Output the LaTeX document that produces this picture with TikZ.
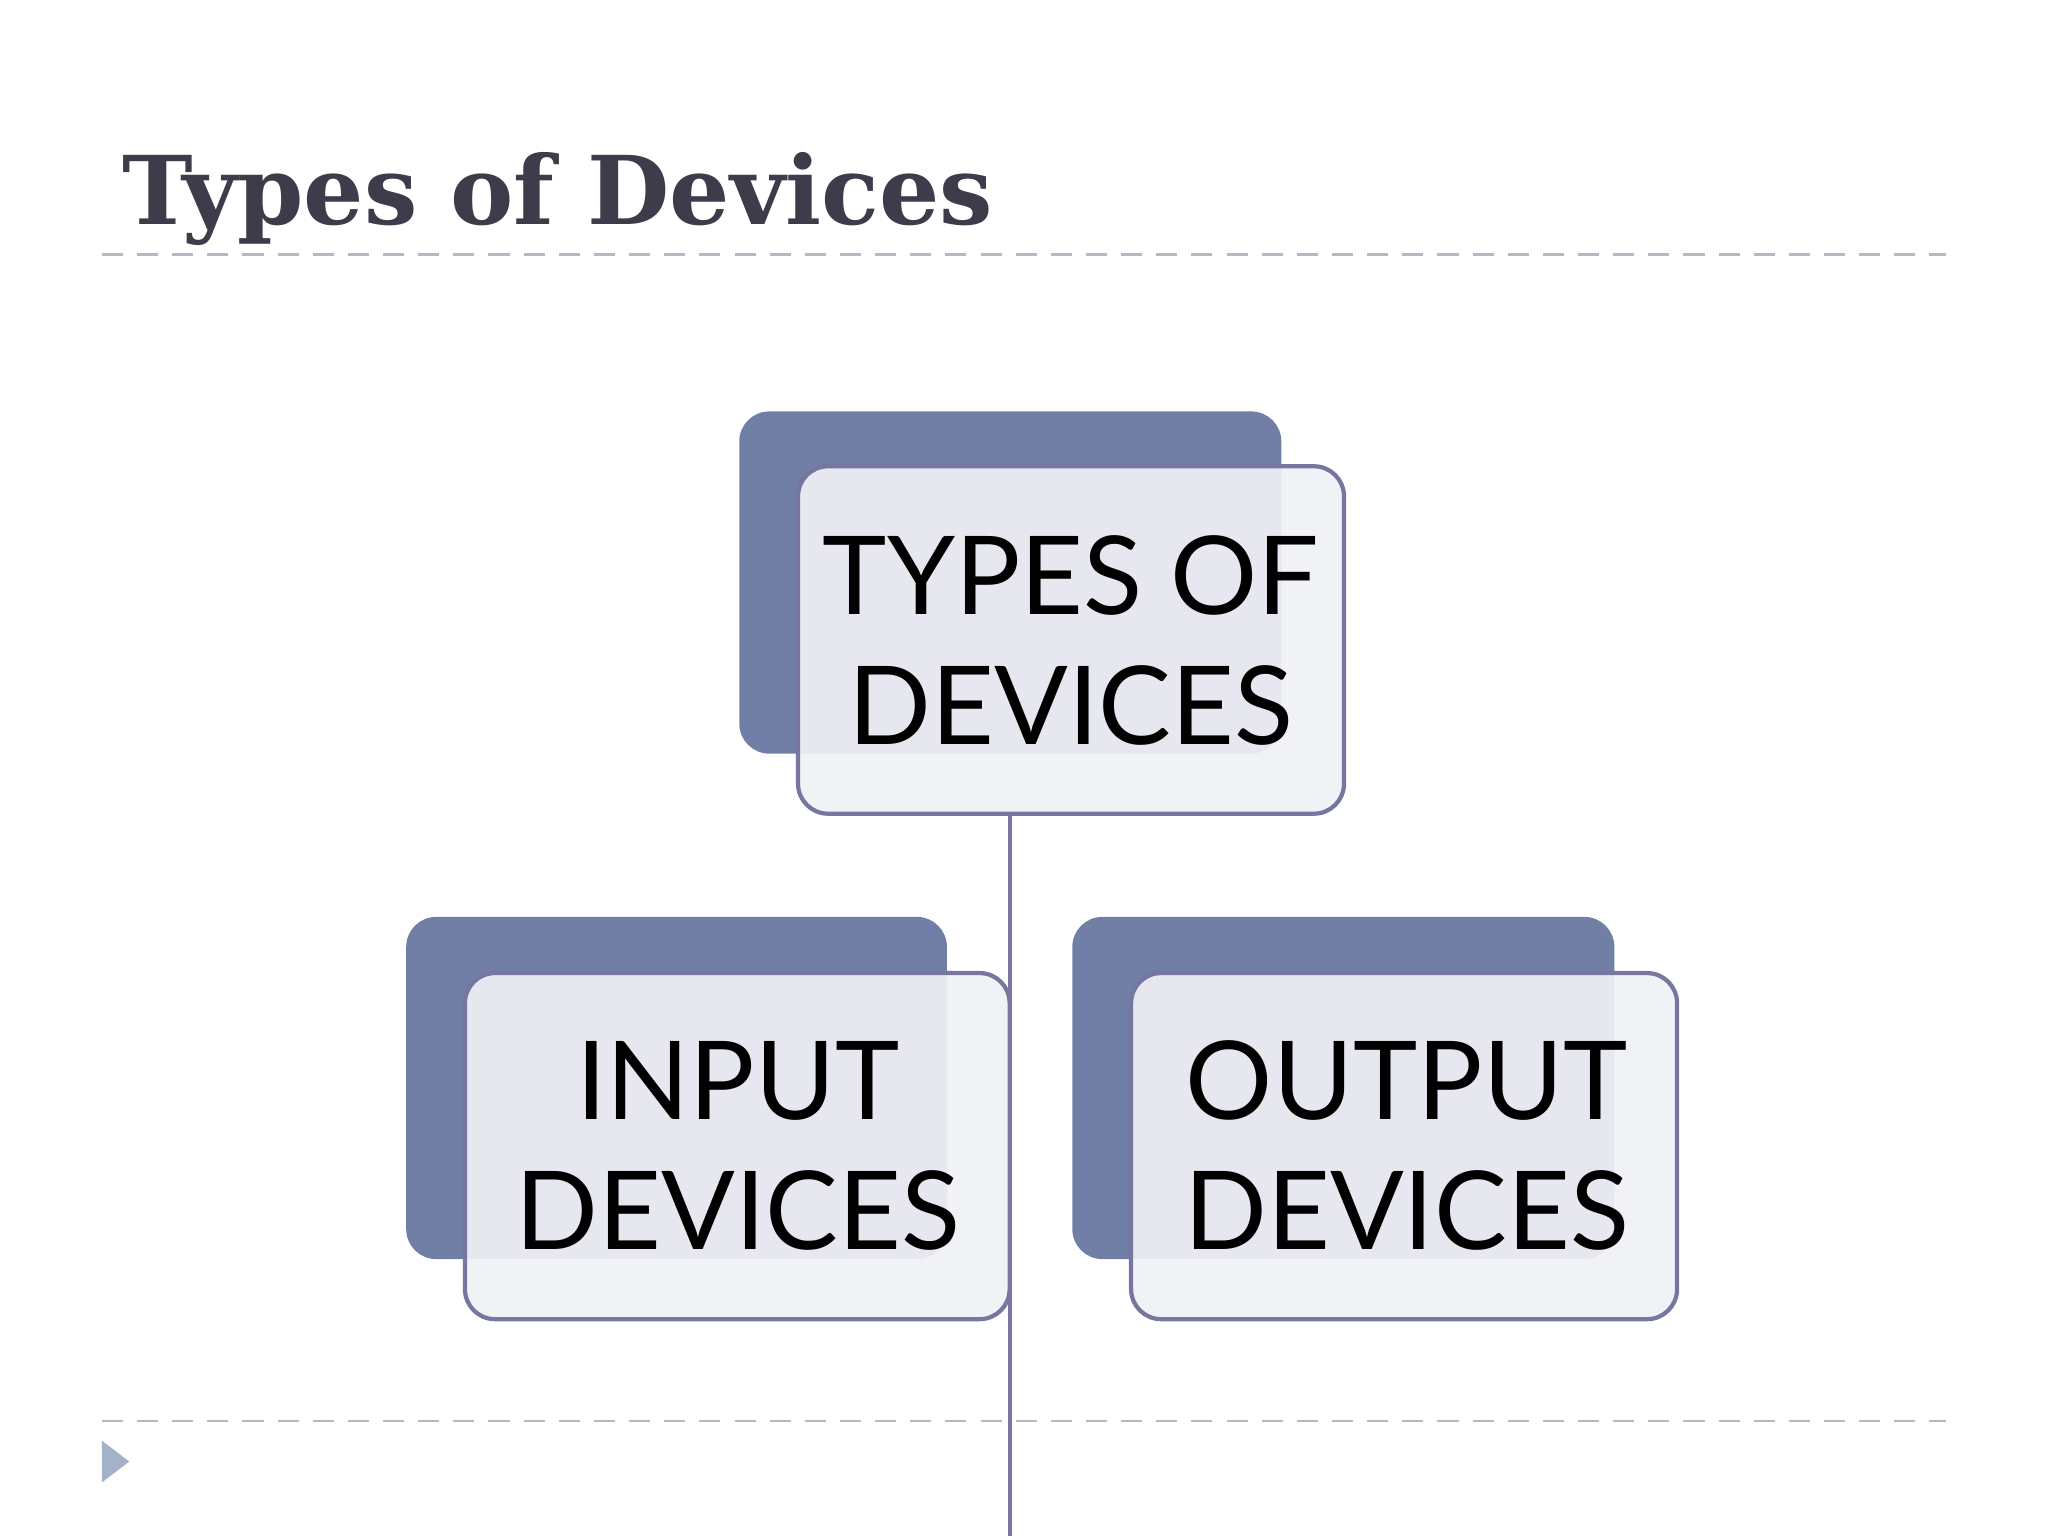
\documentclass[tikz,border=0pt]{standalone}
\usepackage{fontspec}
\setmainfont{Lato}
\newfontfamily\titlefont{DejaVu Serif}
\definecolor{backc}{HTML}{717FA6}
\definecolor{edgec}{HTML}{7676A0}
\definecolor{frontc}{HTML}{F0F1F5}
\definecolor{titlec}{HTML}{3C3C4A}
\definecolor{dashc}{HTML}{B4B8C4}
\definecolor{tric}{HTML}{A3B2C9}
\begin{document}
\begin{tikzpicture}[x=0.013061cm,y=-0.013061cm,
  backbox/.style={fill=backc,rounded corners=0.3cm},
  frontbox/.style={fill=frontc,fill opacity=0.93,draw=edgec,line width=1.2pt,rounded corners=0.3cm},
  lbl/.style={font=\fontsize{31}{37}\selectfont,align=center,text=black},
  sep/.style={dashc,dashed,line width=0.7pt,dash pattern=on 6pt off 4pt}]
\useasboundingbox (0,0) rectangle (1568,1176);
\node[anchor=base west,text=titlec,font=\titlefont\bfseries\fontsize{27}{30}\selectfont,inner sep=0] (title) at (93,172) {Types of Devices};
\draw[sep] (78,195) -- (1490,195);
\draw[sep] (78,1088) -- (1490,1088);
\fill[tric] (78,1103) -- (99,1119) -- (78,1135) -- cycle;
% top
\fill[backbox] (566,315) rectangle (981,577);
\draw[frontbox] (611,357) rectangle (1029,623);
\node[lbl] (top) at (820,490) {TYPES OF\\DEVICES};
\coordinate (topb) at (773,623);
\coordinate (bot) at (773,1176);
% left
\fill[backbox] (311,702) rectangle (725,964);
\draw[frontbox] (356,745) rectangle (773,1010);
\node[lbl] (in) at (565,877) {INPUT\\DEVICES};
% right
\fill[backbox] (821,702) rectangle (1236,964);
\draw[frontbox] (866,745) rectangle (1284,1010);
\node[lbl] (out) at (1077,877) {OUTPUT\\DEVICES};
\draw[edgec,line width=1.2pt] (topb) -- (bot);
\end{tikzpicture}
\end{document}
